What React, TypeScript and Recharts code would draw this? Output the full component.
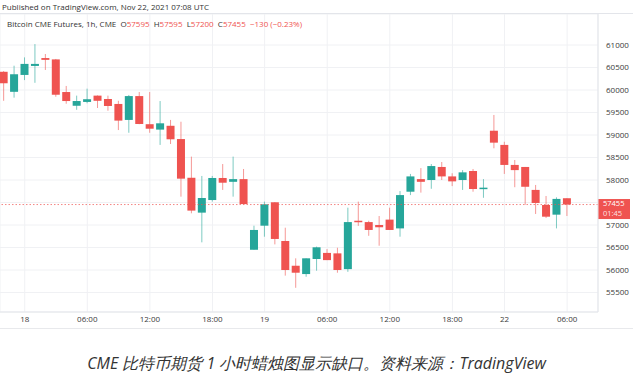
import { ComposedChart, Bar, XAxis, YAxis, CartesianGrid, ReferenceLine } from 'recharts';

// hourly candles, Bitcoin CME futures
const opens = [
  60405, 59960, 60335, 60535, 60710, 60680, 59955, 59650, 59735, 59875, 59800,
  59690, 59335, 59865, 59240, 59120, 59205, 58910, 58050, 57275, 57555, 58045,
  57960, 58020, 56450, 56985, 57505, 56645, 56095, 55910, 56245, 56380, 56370,
  56020, 57095, 57065, 57000, 57120, 56925, 57740, 58020, 58000, 58290, 58080,
  58000, 58200, 57820, 59095, 58780, 58335, 58290, 57780, 57445, 57230, 57595,
];
const highs = [
  60420, 60540, 60725, 61020, 60800, 60690, 60090, 59875, 60030, 59880, 59875,
  59760, 59890, 59955, 59955, 59755, 59335, 59295, 58520, 58090, 58090, 58355,
  58520, 58245, 56985, 57520, 57510, 56940, 56260, 56260, 56520, 56465, 56495,
  57385, 57520, 57095, 57200, 57385, 57755, 58135, 58265, 58355, 58400, 58150,
  58220, 58245, 58020, 59445, 58850, 58445, 58290, 57890, 57645, 57615, 57595,
];
const lows = [
  59760, 59830, 60220, 60160, 60445, 59850, 59695, 59560, 59705, 59600, 59540,
  59110, 59050, 59240, 59050, 58780, 58800, 57630, 57260, 56615, 57520, 57780,
  57630, 57460, 56450, 56740, 56570, 55875, 55605, 55850, 55985, 56220, 55940,
  55960, 56980, 56760, 56540, 56890, 56740, 57665, 57720, 57805, 58000, 57865,
  57780, 57740, 57605, 58705, 58135, 57840, 57450, 57245, 57155, 56925, 57200,
];
const closes = [
  60150, 60350, 60580, 60580, 60670, 59895, 59755, 59755, 59795, 59760, 59645,
  59320, 59865, 59245, 59140, 59260, 58905, 58030, 57320, 57600, 58045, 57940,
  58020, 57465, 56890, 57460, 56690, 56000, 55940, 56260, 56505, 56220, 56000,
  57065, 57065, 56890, 56950, 56890, 57665, 58080, 57960, 58310, 58080, 57970,
  58170, 57800, 57830, 58830, 58335, 58220, 57850, 57490, 57185, 57580, 57455,
];

const timeTicks = [2, 8, 14, 20, 25, 31, 37, 43, 48, 54];
const timeLabels = ['18', '06:00', '12:00', '18:00', '19', '06:00', '12:00', '18:00', '22', '06:00'];
const priceTicks = [55500, 56000, 56500, 57000, 57500, 58000, 58500, 59000, 59500, 60000, 60500, 61000];
const lastPrice = 57455;

const UP = '#26a69a';
const DOWN = '#ef5350';

const data = opens.map((open, i) => ({
  i,
  open,
  high: highs[i],
  low: lows[i],
  close: closes[i],
}));

const Candle = (props: any) => {
  const { x, y, width, height, payload } = props;
  const { open, close, high, low } = payload;
  const top = Math.min(y, y + height);
  const h = Math.abs(height);
  const ratio = high === low ? 0 : h / (high - low);
  const yOf = (v: number) => top + (high - v) * ratio;
  const color = close >= open ? UP : DOWN;
  const bodyTop = yOf(Math.max(open, close));
  const bodyH = Math.max(1.5, yOf(Math.min(open, close)) - bodyTop);
  const cx = x + width / 2;
  return (
    <g>
      <line x1={cx} x2={cx} y1={top} y2={top + h} stroke={color} strokeWidth={1} strokeOpacity={0.6} />
      <rect x={x} y={bodyTop} width={width} height={bodyH} fill={color} />
    </g>
  );
};

const PriceTag = ({ viewBox }: any) => {
  if (!viewBox) return null;
  const x = viewBox.x + viewBox.width;
  const y = viewBox.y;
  return (
    <g>
      <rect x={x} y={y - 5.5} width={32} height={20} fill={DOWN} />
      <text x={x + 5} y={y + 1.5} fill="#fff" fontSize={7.5}>{lastPrice}</text>
      <text x={x + 5} y={y + 11.5} fill="#fff" fontSize={7.5} fillOpacity={0.85}>01:45</text>
    </g>
  );
};

// the price tag covers the 57500 label, as on TradingView
const priceLabel = (v: number) => (Math.abs(v - lastPrice) < 200 ? '' : String(v));

export default function App() {
  return (
    <div style={{ position: 'absolute', left: 0, top: 0, width: 633, height: 375, background: '#fff', fontFamily: '"Open Sans", sans-serif', overflow: 'hidden' }}>
      <ComposedChart width={633} height={328} data={data} margin={{ top: 14, right: 0, bottom: 0, left: 0 }}>
        <CartesianGrid stroke="#f0f1f4" />
        <XAxis
          dataKey="i"
          type="number"
          domain={[-0.37, 56.96]}
          allowDataOverflow
          ticks={timeTicks}
          tickFormatter={(v: number) => timeLabels[timeTicks.indexOf(v)] ?? ''}
          interval={0}
          height={16}
          tickLine={false}
          tickSize={2}
          tickMargin={2}
          axisLine={{ stroke: '#e3e5ea' }}
          tick={{ fontSize: 8, fill: '#3a3a3a' }}
        />
        <YAxis
          orientation="right"
          width={35}
          domain={[55067, 61689]}
          allowDataOverflow
          ticks={priceTicks}
          tickFormatter={priceLabel}
          interval={0}
          tickLine={false}
          axisLine={{ stroke: '#e3e5ea' }}
          tick={{ fontSize: 8, fill: '#3a3a3a' }}
        />
        <ReferenceLine
          y={lastPrice}
          stroke={DOWN}
          strokeOpacity={0.7}
          strokeDasharray="1.5 2"
          label={(p: any) => <PriceTag viewBox={p.viewBox} />}
        />
        <Bar dataKey={(d: any) => [d.low, d.high]} barSize={8} shape={<Candle />} isAnimationActive={false} />
      </ComposedChart>

      <div style={{ position: 'absolute', left: 0, top: 0, width: 633, height: 14, background: '#fff', borderBottom: '1px solid #e3e5ea', boxSizing: 'border-box' }} />
      <div style={{ position: 'absolute', left: 2, top: 1, fontSize: 8, color: '#333', whiteSpace: 'nowrap' }}>
        Published on TradingView.com, Nov 22, 2021 07:08 UTC
      </div>
      <div style={{ position: 'absolute', left: 7, top: 18, fontSize: 8, color: '#333', whiteSpace: 'nowrap' }}>
        Bitcoin CME Futures, 1h, CME&nbsp;&nbsp;O<span style={{ color: DOWN }}>57595</span>&nbsp;&nbsp;H<span style={{ color: DOWN }}>57595</span>
        &nbsp;&nbsp;L<span style={{ color: DOWN }}>57200</span>&nbsp;&nbsp;C<span style={{ color: DOWN }}>57455</span>
        &nbsp;&nbsp;<span style={{ color: DOWN }}>−130 (−0.23%)</span>
      </div>
      <div style={{ position: 'absolute', left: 0, top: 328, width: 633, height: 1, background: '#e8e9ec' }} />
      <div style={{ position: 'absolute', left: 0, top: 352, width: 633, textAlign: 'center', fontSize: 16, fontStyle: 'italic', color: '#333', whiteSpace: 'nowrap' }}>
        CME 比特币期货 1 小时蜡烛图显示缺口。资料来源：TradingView
      </div>
    </div>
  );
}
